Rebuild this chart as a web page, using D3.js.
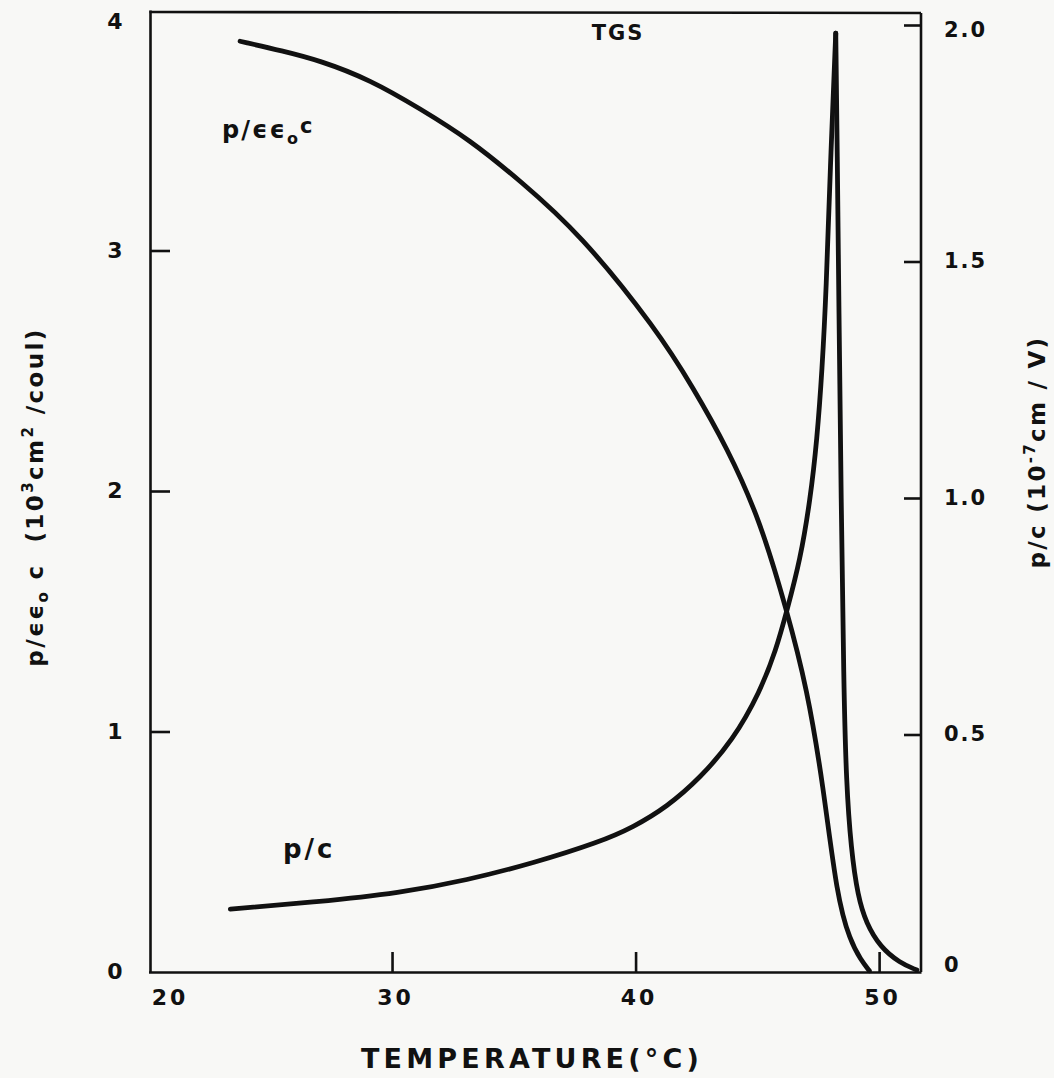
<!DOCTYPE html>
<html>
<head>
<meta charset="utf-8">
<script src="https://cdn.jsdelivr.net/npm/d3@7"></script>
<style>
  html, body { margin: 0; padding: 0; background: #f8f8f6; }
  svg { display: block; }
  text { font-family: "DejaVu Sans", sans-serif; font-weight: bold; fill: #111; white-space: pre; }
</style>
</head>
<body>
<svg id="chart" width="1054" height="1078"></svg>
<script>
// ---- data ----
// p/εε0c (left axis, 10^3 cm^2/coul)
const tempsEps = [23.76, 25.5, 27.04, 29.1, 31.15, 33.2, 35.26, 37.72, 40.88, 42.36, 43.76, 45.11, 46.22, 47.04, 47.7, 48.27, 48.81, 49.25, 49.6];
const valsEps  = [3.87, 3.83, 3.79, 3.71, 3.59, 3.46, 3.29, 3.07, 2.67, 2.43, 2.18, 1.88, 1.50, 1.18, 0.78, 0.31, 0.13, 0.05, 0.005];
// p/c (right axis, 10^-7 cm/V)
const tempsPc = [23.36, 26.92, 30.33, 33.08, 35.79, 38.54, 39.9, 41.29, 42.65, 44.0, 45.11, 45.77, 46.22, 46.76, 47.17, 47.45, 47.66, 47.83, 47.99, 48.22,
                 48.28, 48.35, 48.44, 48.55, 48.65, 48.85, 49.13, 49.47, 50.04, 50.85, 51.55];
const valsPc  = [0.131, 0.146, 0.165, 0.192, 0.228, 0.273, 0.304, 0.347, 0.408, 0.488, 0.590, 0.679, 0.763, 0.869, 0.996, 1.123, 1.271, 1.440, 1.693, 1.983,
                 1.736, 1.40, 1.00, 0.60, 0.40, 0.256, 0.157, 0.101, 0.051, 0.017, 0.002];

const xTicks = [20, 30, 40, 50];
const xTickLabels = ["20", "30", "40", "50"];
const leftTicks = [0, 1, 2, 3, 4];
const leftTickLabels = ["0", "1", "2", "3", "4"];
const rightTicks = [0, 0.5, 1.0, 1.5, 2.0];
const rightTickLabels = ["0", "0.5", "1.0", "1.5", "2.0"];

// ---- scales ----
const x  = d3.scaleLinear().domain([20, 51.72]).range([148.5, 921]);
const yL = d3.scaleLinear().domain([0, 4]).range([972, 10]);
const yR = d3.scaleLinear().domain([0, 2]).range([971, 25]);

const svg = d3.select("#chart");
svg.append("rect").attr("width", 1054).attr("height", 1078).attr("fill", "#f8f8f6");

const ink = "#111";
const axW = 2.6;

// frame (top + right lines)
const [x0, x1] = x.range();
const frame = svg.append("g").attr("stroke", ink).attr("stroke-width", axW).attr("fill", "none");
frame.append("line").attr("x1", x0 + 1).attr("x2", x1).attr("y1", yL(4) + 2).attr("y2", yL(4) + 3);
frame.append("line").attr("x1", x1).attr("x2", x1).attr("y1", yL(4) + 3).attr("y2", yL(0));

// left axis
const gL = svg.append("g").attr("transform", `translate(${x0 + 1.5},0)`)
  .call(d3.axisLeft(yL).tickValues(leftTicks).tickFormat((d, i) => leftTickLabels[i])
        .tickSizeInner(-20).tickSizeOuter(0).tickPadding(0));
gL.select(".domain").attr("stroke", ink).attr("stroke-width", axW);
gL.selectAll(".tick line").attr("stroke", ink).attr("stroke-width", axW)
  .filter(d => d === 0 || d === 4).remove();
gL.selectAll(".tick text").attr("x", -35).attr("text-anchor", "middle")
  .attr("dy", d => d === 4 ? "0.85em" : "0.3em")
  .attr("font-size", 22).attr("font-family", null);

// right axis
const gR = svg.append("g").attr("transform", `translate(${x1},0)`)
  .call(d3.axisRight(yR).tickValues(rightTicks).tickFormat((d, i) => rightTickLabels[i])
        .tickSizeInner(-17).tickSizeOuter(0).tickPadding(0));
gR.select(".domain").remove();
gR.selectAll(".tick line").attr("stroke", ink).attr("stroke-width", axW)
  .filter(d => d === 0).remove();
gR.selectAll(".tick text").attr("x", 23).attr("text-anchor", "start")
  .attr("dy", d => d === 2 ? "0.55em" : (d === 0 ? "0.0em" : "0.3em"))
  .attr("font-size", 21).attr("letter-spacing", 2).attr("font-family", null);

// bottom axis
const gB = svg.append("g").attr("transform", `translate(0,${yL(0)})`)
  .call(d3.axisBottom(x).tickValues(xTicks).tickFormat((d, i) => xTickLabels[i])
        .tickSizeInner(-20).tickSizeOuter(0).tickPadding(0));
gB.select(".domain").attr("stroke", ink).attr("stroke-width", axW);
gB.selectAll(".tick line").attr("stroke", ink).attr("stroke-width", axW)
  .filter(d => d === 20).remove();
gB.selectAll(".tick text").attr("y", 25).attr("dy", "0.35em")
  .attr("x", d => d === 20 ? 21 : 3)
  .attr("font-size", 22).attr("font-family", null).attr("letter-spacing", 3);

// curves
const ptsEps = tempsEps.map((t, i) => [x(t), yL(valsEps[i])]);
const ptsPc  = tempsPc.map((t, i) => [x(t), yR(valsPc[i])]);
const iPk = d3.maxIndex(valsPc);
const smooth = d3.line().curve(d3.curveBasis);

const curveStyle = sel => sel.attr("fill", "none").attr("stroke", ink).attr("stroke-width", 4.8)
  .attr("stroke-linecap", "round").attr("stroke-linejoin", "round");

svg.append("path").attr("d", smooth(ptsEps)).call(curveStyle);
svg.append("path").attr("d", smooth(ptsPc.slice(0, iPk + 1))).call(curveStyle);
svg.append("path").attr("d", smooth(ptsPc.slice(iPk))).call(curveStyle);

// in-plot labels
svg.append("text").attr("x", 618).attr("y", 40).attr("text-anchor", "middle")
  .attr("font-size", 21).attr("letter-spacing", 2).text("TGS");

const lab1 = svg.append("text").attr("x", 222).attr("y", 138).attr("font-size", 24).attr("letter-spacing", 2);
lab1.append("tspan").text("p/ϵϵ");
lab1.append("tspan").attr("font-size", 16).attr("dy", 6).text("o");
lab1.append("tspan").attr("dy", -11).attr("font-size", 21).text("c");

svg.append("text").attr("x", 283).attr("y", 858).attr("font-size", 26).attr("letter-spacing", 3).text("p/c");

// axis titles
svg.append("text").attr("x", 532).attr("y", 1068).attr("text-anchor", "middle")
  .attr("font-size", 27).attr("letter-spacing", 4.2).text("TEMPERATURE(°C)");

const tL = svg.append("text").attr("transform", "translate(43,497) rotate(-90)")
  .attr("text-anchor", "middle").attr("font-size", 23).attr("letter-spacing", 2.4);
tL.append("tspan").text("p/ϵϵ");
tL.append("tspan").attr("font-size", 15).attr("dy", 5).text("o");
tL.append("tspan").attr("dy", -5).text(" c  (10");
tL.append("tspan").attr("font-size", 15).attr("dy", -10).text("3");
tL.append("tspan").attr("dy", 10).text("cm");
tL.append("tspan").attr("font-size", 15).attr("dy", -10).text("2");
tL.append("tspan").attr("dy", 10).text(" /coul)");

const tR = svg.append("text").attr("transform", "translate(1045,452) rotate(-90)")
  .attr("text-anchor", "middle").attr("font-size", 23).attr("letter-spacing", 2.3);
tR.append("tspan").text("p/c (10");
tR.append("tspan").attr("font-size", 15).attr("dy", -10).text("-7");
tR.append("tspan").attr("dy", 10).text("cm / V)");
</script>
</body>
</html>
